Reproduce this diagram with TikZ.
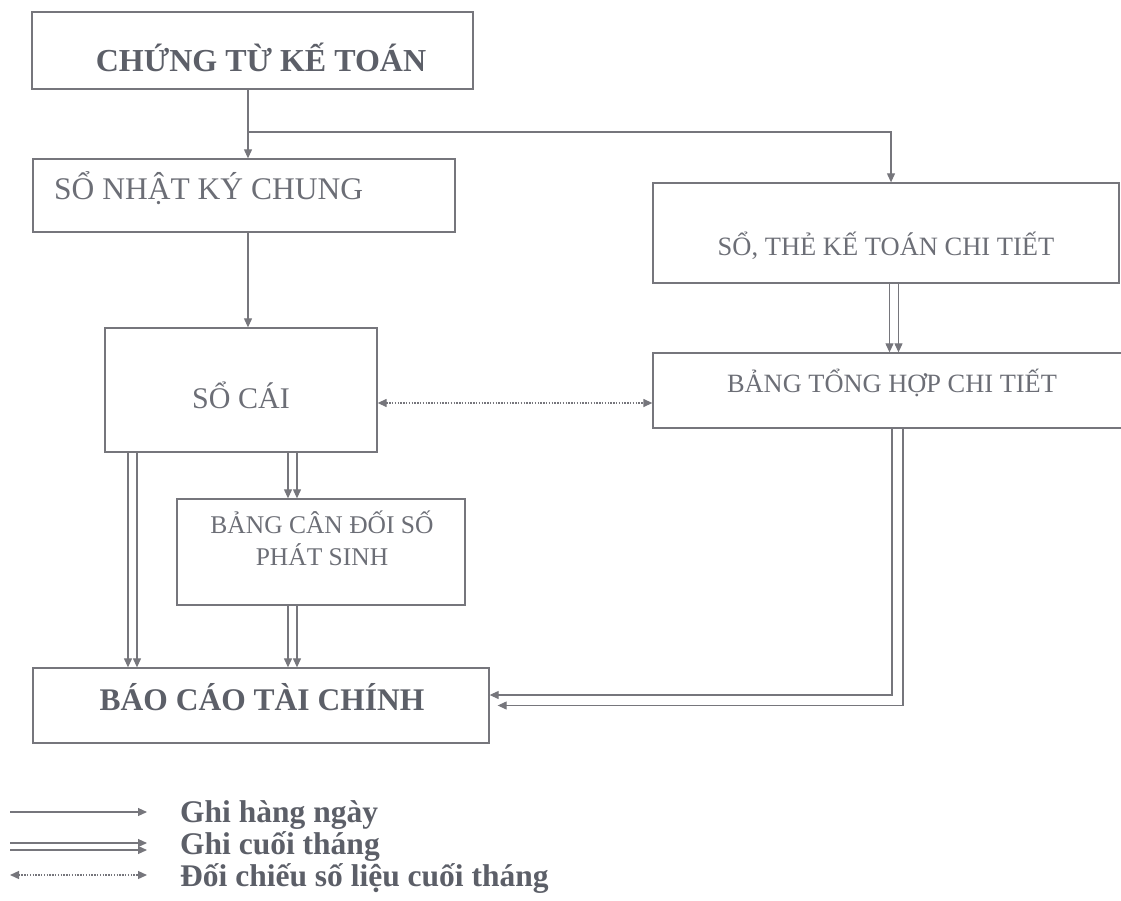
\documentclass[tikz,border=0pt]{standalone}
\usepackage{fontspec}
\setmainfont{Liberation Serif}
\usetikzlibrary{arrows.meta,calc}
\definecolor{lineGray}{RGB}{118,118,124}
\definecolor{textGray}{RGB}{108,110,118}
\definecolor{boldGray}{RGB}{92,95,104}

\begin{document}
\begin{tikzpicture}
[x=1pt,y=-1pt,%
  boxDecorate/.style={draw=lineGray,line width=1.3pt,inner sep=0pt},%
  textDecorate/.style={text=textGray,inner sep=0pt,anchor=base},%
  boldDecorate/.style={text=boldGray,inner sep=0pt,anchor=base,font=\fontsize{31.5}{36}\selectfont\bfseries},%
  lineDecorate/.style={draw=lineGray,line width=1.1pt,-{Triangle[length=9pt,width=8pt]}},%
  dotDecorate/.style={draw=lineGray,line width=1.3pt,dash pattern=on 1.4pt off 1.4pt,%
    {Triangle[length=9pt,width=8pt]}-{Triangle[length=9pt,width=8pt]}}]
\useasboundingbox (0,0) rectangle (1121,901);
%%
%% boxes
\foreach \nodename/\x/\y/\w/\h in {
  ctkt/252.5/50.5/441/77, snkc/244/195.5/422/73, socai/241/390/272/124,
  stkt/886/233/466/100, bthct/890/390.5/474/75, bcdps/321/552/288/106,
  bctc/261/705.5/456/75}
{
  \node (\nodename) at (\x,\y) [boxDecorate,minimum width=\w,minimum height=\h] {};
}
%% box texts
\node (ctktText) at (261,72) [boldDecorate,font=\fontsize{32}{36}\selectfont\bfseries] {CHỨNG TỪ KẾ TOÁN};
\node (snkcText) at (54,200) [textDecorate,anchor=base west,font=\fontsize{31.5}{36}\selectfont] {SỔ NHẬT KÝ CHUNG};
\node (socaiText) at (241,408) [textDecorate,font=\fontsize{30}{36}\selectfont] {SỔ CÁI};
\node (stktText) at (886,255) [textDecorate,font=\fontsize{26.5}{32}\selectfont] {SỔ, THẺ KẾ TOÁN CHI TIẾT};
\node (bthctText) at (892,392) [textDecorate,font=\fontsize{26.4}{32}\selectfont] {BẢNG TỔNG HỢP CHI TIẾT};
\node (bcdpsText) at (322,538) [textDecorate,anchor=center,align=center,font=\fontsize{25.5}{32}\selectfont] {BẢNG CÂN ĐỐI SỐ\\PHÁT SINH};
\node (bctcText) at (262,710) [boldDecorate] {BÁO CÁO TÀI CHÍNH};
%%
%% columns of the connectors
\coordinate (branch) at (248,132);
\coordinate (colA) at (132.5,0);
\coordinate (colB) at (292.5,0);
\coordinate (colC) at (894,0);
%% daily entries
\draw[lineDecorate] (ctkt.south -| branch) -- (snkc.north -| branch);
\draw[lineDecorate] (branch) -| ([xshift=5pt]stkt.north);
\draw[lineDecorate] (snkc.south -| branch) -- (socai.north -| branch);
%% month-end entries
\foreach \startnode/\endnode/\col in {socai/bctc/colA, socai/bcdps/colB, bcdps/bctc/colB, stkt/bthct/colC}
  \foreach \s in {-4.5,4.5}
  {
    \draw[lineDecorate] ($(\startnode.south -| \col)+(\s,0)$) -- ($(\endnode.north -| \col)+(\s,0)$);
  }
\draw[lineDecorate] ($(bthct.south -| colC)+(-2,0)$) |- ($(bctc.east)+(0,-10.5)$);
\draw[lineDecorate] ($(bthct.south -| colC)+(9,0)$) |- ($(bctc.east)+(8,0)$);
%% cross-check
\draw[dotDecorate] ($(socai.east)+(0,13)$) -- ($(bthct.west |- socai.east)+(0,13)$);
%%
%% legend
\coordinate (legA) at (10,812);
\coordinate (legB) at (147,812);
\coordinate (legC) at (10,846.5);
\coordinate (legD) at (147,846.5);
\coordinate (legE) at (10,875);
\coordinate (legF) at (147,875);
\draw[lineDecorate] (legA) -- (legB);
\foreach \s in {-3.5,3.5}
{
  \draw[lineDecorate] ($(legC)+(0,\s)$) -- ($(legD)+(0,\s)$);
}
\draw[dotDecorate] (legE) -- (legF);
\node (legDaily) at (180,822) [boldDecorate,anchor=base west] {Ghi hàng ngày};
\node (legMonth) at (180,854) [boldDecorate,anchor=base west] {Ghi cuối tháng};
\node (legCheck) at (180,886) [boldDecorate,anchor=base west] {Đối chiếu số liệu cuối tháng};
\end{tikzpicture}
\end{document}
